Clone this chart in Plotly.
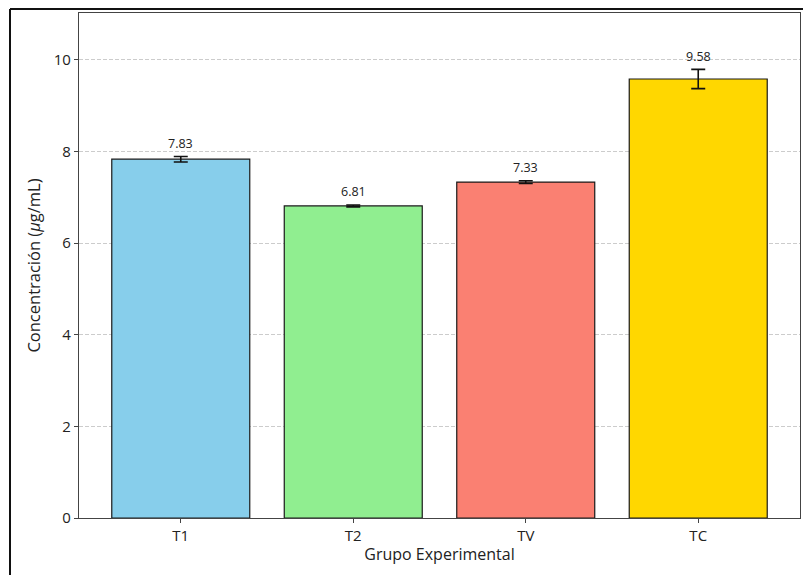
import plotly.graph_objects as go

# Experimental groups and measured concentrations
grupos = ["T1", "T2", "TV", "TC"]
medias = [7.83, 6.81, 7.33, 9.58]
errores = [0.06, 0.02, 0.03, 0.21]
colores = ["#87CEEB", "#90EE90", "#FA8072", "#FFD700"]

FONT = "Open Sans, Inter, DejaVu Sans, sans-serif"

fig = go.Figure()
fig.add_trace(go.Bar(
    x=list(range(len(grupos))),
    y=medias,
    width=0.8,
    marker=dict(color=colores, line=dict(color="#1a1a1a", width=1.2)),
    error_y=dict(type="data", array=errores, visible=True,
                 color="#111111", thickness=1.6, width=7),
    showlegend=False,
))

# Value labels above each error bar
for i, (m, e) in enumerate(zip(medias, errores)):
    fig.add_annotation(x=i, y=m + e + 0.06, text=f"{m:.2f}", showarrow=False,
                       yanchor="bottom", xanchor="center",
                       font=dict(family=FONT, size=12.5, color="#222222"))

# Frame around the whole figure (left and top edges visible in the window)
frame = dict(color="#111111", width=2)
fig.add_shape(type="line", xref="paper", yref="paper",
              x0=-0.0957, x1=-0.0957, y0=1.0079, y1=-0.2, line=frame)
fig.add_shape(type="line", xref="paper", yref="paper",
              x0=-0.0957, x1=1.02, y0=1.0079, y1=1.0079, line=frame)

fig.update_layout(
    width=803, height=575,
    margin=dict(l=79, r=3, t=13, b=57),
    plot_bgcolor="white", paper_bgcolor="white",
    font=dict(family=FONT, size=15, color="#222222"),
    bargap=0.2,
)
fig.update_xaxes(
    range=[-0.59, 3.59],
    tickmode="array", tickvals=list(range(len(grupos))), ticktext=grupos,
    ticks="outside", ticklen=4, tickcolor="#444444",
    showline=True, linecolor="#444444", linewidth=1.2, mirror=True,
    showgrid=False, zeroline=False,
    title=dict(text="Grupo Experimental", font=dict(size=16), standoff=4),
    tickfont=dict(size=15),
)
fig.update_yaxes(
    range=[0, 11.02],
    tickvals=[0, 2, 4, 6, 8, 10],
    ticks="outside", ticklen=4, tickcolor="#444444",
    showline=True, linecolor="#444444", linewidth=1.2, mirror=True,
    showgrid=True, gridcolor="#cccccc", griddash="4px,2px", gridwidth=1,
    zeroline=False,
    title=dict(text="Concentración (<i>µ</i>g/mL)", font=dict(size=16.5), standoff=8),
    tickfont=dict(size=15),
)

fig.write_html("out.html")
